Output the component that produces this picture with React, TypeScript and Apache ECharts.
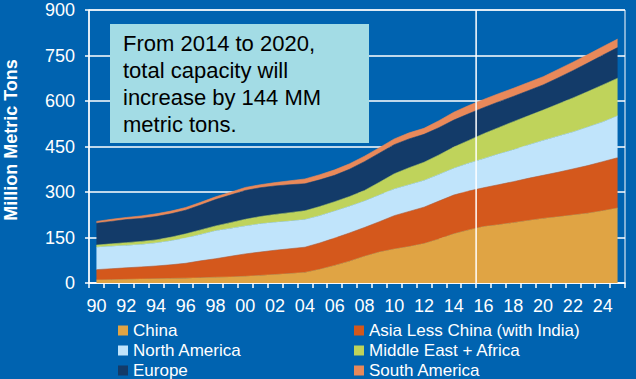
import React, { useEffect, useRef } from "react";
import * as echarts from "echarts";

const years = [
  "1990","1991","1992","1993","1994","1995","1996","1997","1998","1999",
  "2000","2001","2002","2003","2004","2005","2006","2007","2008","2009",
  "2010","2011","2012","2013","2014","2015","2016","2017","2018","2019",
  "2020","2021","2022","2023","2024","2025",
];

const china = [10,11,12,13,14,15,16,17,19,20,22,25,28,31,35,45,58,72,88,102,112,120,130,145,162,175,186,192,199,206,213,218,224,230,238,247];
const asiaLessChina = [34,36,38,40,42,45,49,56,61,68,74,77,80,82,83,87,90,93,95,100,110,116,120,125,128,128,128,132,135,139,142,147,152,157,162,166];
const northAmerica = [74,74,74,74,76,79,83,87,92,92,92,93,92,91,91,90,89,88,87,88,88,88,88,88,88,92,96,101,105,110,115,119,122,127,131,138];
const middleEastAfrica = [7,8,9,10,10,12,14,15,16,19,22,24,26,28,29,30,31,32,35,42,50,56,60,64,70,75,82,87,93,96,100,106,112,117,122,124];
const europe = [72,74,76,76,77,77,78,82,87,91,95,95,94,92,89,88,87,90,95,96,96,95,92,90,89,88,86,85,83,83,83,86,90,94,98,101];
const southAmerica = [6,7,7,8,9,9,9,9,9,9,10,10,11,13,16,17,18,18,18,18,19,20,20,23,26,27,27,27,27,27,27,28,28,28,28,28];

const yTicks = [0, 150, 300, 450, 600, 750, 900];
const forecastStartYear = "2016";

const seriesDefs = [
  { name: "China", data: china, color: "#e0a444" },
  { name: "Asia Less China (with India)", data: asiaLessChina, color: "#d4581c" },
  { name: "North America", data: northAmerica, color: "#c0e4fb" },
  { name: "Middle East + Africa", data: middleEastAfrica, color: "#bfd35b" },
  { name: "Europe", data: europe, color: "#133b69" },
  { name: "South America", data: southAmerica, color: "#e9895a" },
];

const FONT = "'Liberation Sans', Arial, sans-serif";
const BG = "#0063b0";

export default function App() {
  const ref = useRef<HTMLDivElement>(null);

  useEffect(() => {
    if (!ref.current) return;
    const chart = echarts.init(ref.current, null, { renderer: "svg" });
    const baseGraphics: any[] = [
      {
        type: "text",
        x: 11,
        y: 140,
        rotation: Math.PI / 2,
        style: {
          text: "Million Metric Tons",
          fill: "#ffffff",
          font: `bold 18px ${FONT}`,
          align: "center",
          verticalAlign: "middle",
        },
      },
      {
        type: "rect",
        shape: { x: 110, y: 24, width: 259, height: 119 },
        style: { fill: "#a3dce5" },
        z: 100,
      },
      {
        type: "text",
        x: 123,
        y: 30,
        z: 101,
        style: {
          text: "From 2014 to 2020,\ntotal capacity will\nincrease by 144 MM\nmetric tons.",
          fill: "#000000",
          font: `22px ${FONT}`,
          lineHeight: 27,
          verticalAlign: "top",
        },
      },
    ];
    const legendCommon = {
      orient: "vertical",
      top: 322,
      height: 80,
      itemWidth: 10,
      itemHeight: 10,
      itemGap: 3,
      icon: "rect",
      padding: 0,
      textStyle: { color: "#ffffff", fontSize: 17, lineHeight: 16.5, fontFamily: FONT },
    };
    chart.setOption({
      animation: false,
      backgroundColor: BG,
      textStyle: { fontFamily: FONT },
      grid: {
        left: 89,
        top: 10,
        right: 11,
        bottom: 96,
        show: true,
        borderColor: "#ffffff",
        borderWidth: 1,
        backgroundColor: "transparent",
      },
      legend: [
        { ...legendCommon, left: 118, data: ["China", "North America", "Europe"] },
        {
          ...legendCommon,
          left: 354,
          data: ["Asia Less China (with India)", "Middle East + Africa", "South America"],
        },
      ],
      xAxis: {
        type: "category",
        data: years,
        boundaryGap: true,
        axisLine: { lineStyle: { color: "#ffffff", width: 1.5 } },
        axisTick: { show: true, interval: 0, length: 5, lineStyle: { color: "#ffffff", width: 1.5 } },
        axisLabel: {
          interval: 1,
          color: "#ffffff",
          fontSize: 18,
          margin: 14,
          fontFamily: FONT,
          formatter: (v: string) => v.slice(2),
        },
        splitLine: { show: false },
      },
      yAxis: {
        type: "value",
        min: yTicks[0],
        max: yTicks[yTicks.length - 1],
        interval: yTicks[1] - yTicks[0],
        axisLine: { show: true, lineStyle: { color: "#ffffff", width: 1.5 } },
        axisTick: { show: true, length: 4, lineStyle: { color: "#ffffff", width: 1.5 } },
        axisLabel: { color: "#ffffff", fontSize: 18, margin: 14, fontFamily: FONT },
        splitLine: { show: true, lineStyle: { color: "#ffffff", width: 1.5 } },
      },
      graphic: baseGraphics,
      series: seriesDefs.map((s) => ({
        name: s.name,
        type: "line",
        stack: "total",
        data: s.data,
        symbol: "none",
        showSymbol: false,
        lineStyle: { width: 0.6, color: s.color },
        itemStyle: { color: s.color },
        areaStyle: { color: s.color, opacity: 1 },
        emphasis: { disabled: true },
      })),
    });

    // Forecast divider: boundary between the year before and the forecast start year
    const idx = years.indexOf(forecastStartYear);
    const xPrev = chart.convertToPixel({ xAxisIndex: 0 }, years[idx - 1]) as number;
    const xCur = chart.convertToPixel({ xAxisIndex: 0 }, years[idx]) as number;
    const xLine = (xPrev + xCur) / 2;
    const yTop = chart.convertToPixel({ yAxisIndex: 0 }, yTicks[yTicks.length - 1]) as number;
    const yBottom = chart.convertToPixel({ yAxisIndex: 0 }, yTicks[0]) as number;
    chart.setOption({
      graphic: [
        ...baseGraphics,
        {
          type: "line",
          z: 50,
          shape: { x1: xLine, y1: yTop, x2: xLine, y2: yBottom },
          style: { stroke: "#ffffff", lineWidth: 1.5 },
        },
      ],
    });
    return () => chart.dispose();
  }, []);

  return (
    <div
      ref={ref}
      style={{ position: "absolute", left: 0, top: 0, width: 636, height: 379, background: BG }}
    />
  );
}
